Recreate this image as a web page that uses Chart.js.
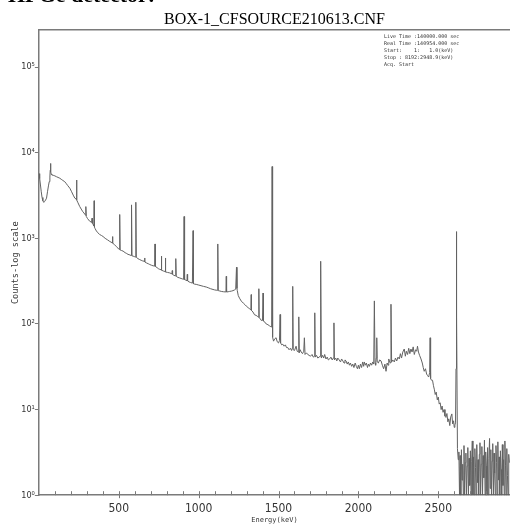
<!DOCTYPE html>
<html>
<head>
<meta charset="utf-8">
<script src="https://cdn.jsdelivr.net/npm/chart.js@4.4.1/dist/chart.umd.min.js"></script>
<style>
  html, body { margin: 0; padding: 0; background: #fff; overflow: hidden; }
  #wrap { position: relative; width: 510px; height: 524px; }
  #heading { position: absolute; left: 8px; top: -16px; font: bold 22px/22px 'Liberation Serif', serif; color: #000; white-space: nowrap; }
  #info { position: absolute; left: 384px; top: 33px; font: 5px/7px 'DejaVu Sans Mono', monospace; color: #333; white-space: pre; }
</style>
</head>
<body>
<div id="wrap">
  <canvas id="spectrum" width="510" height="524"></canvas>
  <div id="heading">HPGe detector:</div>
  <div id="info"></div>
</div>
<script>
(function() {
    // [energy keV, counts]
    const lowRegion = [
        [1,5700],[5,5000],[10,4200],[15,3500],[20,3000],[25,2750],[31,2630],[36,2700],[42,2800],[48,2950],
        [54,3500],[60,4100],[65,4600],[69,5200],[71,6200],[73,7500],[75,6000],[78,5600],[81,5500],[90,5450],
        [100,5370],[110,5250],[120,5150],[131,5040],[140,4900],[150,4750],[162,4590],[170,4400],[180,4150],[194,3850],
        [205,3500],[215,3200],[225,2950],[234,2870],[236,4800],[238,2800],[245,2600],[256,2350],[265,2200],[275,2050],
        [282,1980],[289,1900],[293,1850],[295,2350],[297,1800],[305,1700],[319,1580],[331,1540],[333,1720],[335,1500],
        [340,1450],[344,1400],[346,2750],[348,1350],[352,1300],[360,1220],[370,1160],[380,1110],[392,1080],[402,1050],
        [415,1000],[430,960],[444,920],[458,890],[461,1050],[463,880],[472,850],[485,800],[495,770],[503,740],
        [506,1900],[509,730],[518,720],[527,710],[540,680],[550,665],[558,650],[570,640],[577,630],[580,2460],
        [583,625],[590,620],[600,610],[604,605],[607,2640],[610,600],[620,580],[631,565],[640,555],[650,545],
        [660,540],[662,590],[664,530],[675,515],[685,505],[694,495],[705,485],[715,478],[725,475],[727,860],
        [729,470],[740,455],[750,440],[756,435],[765,430],[767,620],[769,425],[780,415],[790,410],[792,590],
        [794,405],[805,400],[819,395],[833,385],[835,420],[837,380],[845,370],[854,365],[857,580],[860,360],
        [870,350],[881,345],[890,340],[900,335],[906,332],[909,1800],[912,330],[920,325],[927,320],[929,380],
        [931,318],[940,310],[950,305],[961,300],[965,1230],[968,295],[975,292],[985,290],[1000,285],[1015,280],
        [1030,275],[1048,270],[1060,265],[1075,258],[1090,253],[1100,250],[1110,248],[1117,247],[1120,860],[1123,245],
        [1132,243],[1142,240],[1155,238],[1165,237],[1171,237],[1173,360],[1175,236],[1185,238],[1194,240],[1205,242],
        [1215,245],[1225,250],[1232,255],[1237,460],[1240,260]
    ];

    const midRegion = [
        [1242,245],[1248,215],[1256,200],[1267,185],[1280,175],[1290,168],[1298,162],[1310,155],[1320,150],[1327,146],
        [1329,220],[1331,144],[1340,138],[1350,128],[1360,126],[1370,122],[1375,120],[1377,258],[1379,118],[1385,116],
        [1392,110],[1400,110],[1403,230],[1406,108],[1415,105],[1423,100],[1434,98],[1444,95],[1452,93],[1457,92],
        [1460,6900],[1463,70],[1469,63],[1476,67],[1485,69],[1492,62],[1500,60],[1506,64],[1510,129],[1513,60],
        [1520,57],[1527,58],[1535,55],[1543,57],[1550,53],[1558,53],[1566,50],[1574,52],[1582,49],[1586,52],
        [1589,275],[1592,50],[1600,49],[1610,55],[1617,48],[1624,47],[1627,121],[1630,46],[1636,50],[1642,47],
        [1650,45],[1658,48],[1662,69],[1666,44],[1675,46],[1683,44],[1692,43],[1700,42],[1710,44],[1718,41],
        [1724,42],[1727,135],[1730,41],[1738,43],[1746,40],[1754,41],[1760,42],[1764,540],[1768,40],[1776,43],
        [1783,40],[1789,44],[1797,39],[1805,41],[1812,38],[1820,39],[1828,41],[1836,38],[1843,40],[1847,103],
        [1850,38],[1858,40],[1865,37],[1871,40],[1880,38],[1888,36],[1895,39],[1903,37],[1910,35],[1916,38],
        [1923,37],[1930,34],[1937,36],[1944,33],[1950,35],[1958,32],[1965,34],[1972,31],[1980,35],[1987,32],
        [1994,30],[2000,33],[2006,30],[2013,34],[2020,31],[2027,36],[2033,32],[2037,36],[2044,33],[2050,35],
        [2057,31],[2063,34],[2069,32],[2076,35],[2083,33],[2090,36],[2096,34],[2100,186],[2104,35],[2108,33],
        [2112,40],[2115,69],[2118,36],[2125,35],[2133,38],[2142,37],[2150,33],[2158,30],[2166,34],[2173,28],
        [2180,35],[2186,33],[2190,39],[2196,36],[2200,35],[2204,170],[2208,36],[2215,38],[2225,36],[2232,40],
        [2240,37],[2248,41],[2256,39],[2263,45],[2270,40],[2278,47],[2287,51],[2294,42],[2300,48],[2308,44],
        [2315,52],[2322,45],[2329,51],[2336,47],[2343,54],[2350,44],[2358,50],[2365,48],[2370,55],[2376,47],
        [2383,43],[2392,39],[2400,35],[2406,31],[2412,28],[2420,30],[2427,26],[2433,25],[2440,24],[2446,27],
        [2449,69],[2452,23],[2458,22],[2464,22],[2470,19],[2476,17],[2481,15],[2487,16],[2494,13],[2500,14],
        [2506,11.6],[2512,12],[2518,10],[2524,11],[2530,9.3],[2536,10],[2542,8.4],[2548,8.1],[2554,9],[2560,7.2],
        [2566,7.8],[2572,6.5],[2578,8.2],[2585,8.9],[2590,6.8],[2596,7.4],[2600,6.2],[2604,6.6],[2608,7]
    ];

    const tailRegion = [
        [2611,30],[2613,1200],[2616,120],[2620,3.5],[2625,2.6],[2629,3.2],[2633,1],[2637,2.9],[2641,1],[2645,3.4],
        [2649,1.5],[2653,2.3],[2657,1],[2661,3.8],[2665,1],[2669,2.4],[2673,3.1],[2677,1],[2681,2.2],[2685,3.6],
        [2689,1],[2693,2.7],[2697,1.3],[2701,3.3],[2705,1],[2709,2.5],[2713,4.3],[2717,1],[2721,2.8],[2725,1],
        [2729,3.5],[2733,2.1],[2737,1],[2741,3.9],[2745,1.4],[2749,2.6],[2753,1],[2757,3.0],[2761,4.1],[2765,1],
        [2769,2.3],[2773,3.7],[2777,1],[2781,2.9],[2785,1.6],[2789,4.4],[2793,1],[2797,3.2],[2801,2.2],[2805,1],
        [2809,3.6],[2813,1],[2817,2.7],[2821,4.6],[2825,1.2],[2829,3.4],[2833,1],[2837,2.5],[2841,4.0],[2845,1],
        [2849,3.1],[2853,1.8],[2857,1],[2861,3.8],[2865,2.4],[2869,1],[2873,4.2],[2877,1.5],[2881,2.8],[2885,1],
        [2889,3.3],[2893,2.0],[2897,1],[2901,3.9],[2905,1.3],[2909,2.6],[2913,1],[2917,4.3],[2921,2.2],[2925,1],
        [2929,3.5],[2933,1.7],[2937,1],[2941,3.0],[2945,2.4]
    ];

    const yTickValues = [1, 10, 100, 1000, 10000, 100000];
    const yTickLabels = ['10⁰', '10¹', '10²', '10³', '10⁴', '10⁵'];
    const xLabelValues = [500, 1000, 1500, 2000, 2500];
    const infoLines = [
        'Live Time :140000.000 sec',
        'Real Time :140954.000 sec',
        'Start:    1:   1.0(keV)',
        'Stop : 8192:2948.9(keV)',
        'Acq. Start'
    ];

    document.getElementById('info').textContent = infoLines.join('\n');

    const spectrum = lowRegion.concat(midRegion, tailRegion);
    const axisGrey = '#7a7a7a';
    const narrow = "'Liberation Sans Narrow', 'DejaVu Sans Condensed', 'DejaVu Sans', sans-serif";
    const mono = "'DejaVu Sans Mono', monospace";

    // small tick marks pointing into the plot on the energy axis
    const innerTicks = {
        id: 'innerTicks',
        afterDatasetsDraw(chart) {
            const {ctx, chartArea, scales: {x}} = chart;
            ctx.save();
            ctx.strokeStyle = axisGrey;
            ctx.lineWidth = 1;
            x.ticks.forEach(t => {
                if (t.value <= 0 || t.value >= x.max || t.value % 100) return;
                const px = Math.round(x.getPixelForValue(t.value)) + 0.5;
                const major = t.value % 500 === 0;
                ctx.beginPath();
                ctx.moveTo(px, chartArea.bottom - 4);
                ctx.lineTo(px, chartArea.bottom + (major ? 3 : 0));
                ctx.stroke();
            });
            ctx.restore();
        }
    };

    new Chart(
        document.getElementById('spectrum'),
        {
            type: 'line',
            data: {
                datasets: [
                    {
                        label: 'Counts',
                        data: spectrum.map(([e, c]) => ({x: e, y: c})),
                        borderColor: '#636363',
                        borderWidth: 1,
                        pointRadius: 0,
                        pointHoverRadius: 0,
                        tension: 0
                    }
                ]
            },
            options: {
                responsive: false,
                animation: false,
                layout: { autoPadding: false, padding: { top: 8, left: 1, right: 0, bottom: 0 } },
                plugins: {
                    legend: { display: false },
                    tooltip: { enabled: false }
                },
                scales: {
                    x: {
                        type: 'linear',
                        position: 'bottom',
                        min: 0,
                        max: 2949,
                        // tick marks are drawn by the plugin; tickLength only spaces the labels
                        grid: { display: false, drawTicks: true, tickLength: 6 },
                        border: { color: axisGrey, width: 1.5 },
                        ticks: {
                            stepSize: 100,
                            autoSkip: false,
                            maxRotation: 0,
                            padding: 0,
                            color: '#333',
                            font: { family: narrow, size: 12 },
                            callback: v => xLabelValues.includes(v) ? String(v) : ''
                        },
                        title: {
                            display: true,
                            text: 'Energy(keV)',
                            color: '#333',
                            padding: { top: 0, bottom: 0 },
                            font: { family: mono, size: 7 }
                        }
                    },
                    top: {
                        type: 'linear',
                        position: 'top',
                        min: 0,
                        max: 2949,
                        grid: { display: false, drawTicks: false },
                        ticks: { display: false, padding: 0 },
                        border: { color: axisGrey, width: 1.5 },
                        title: {
                            display: true,
                            text: 'BOX-1_CFSOURCE210613.CNF',
                            color: '#000',
                            padding: { top: 2, bottom: 1 },
                            font: { family: "'Liberation Serif', serif", size: 16 }
                        }
                    },
                    y: {
                        type: 'logarithmic',
                        min: 1,
                        max: 270000,
                        afterBuildTicks: scale => {
                            scale.ticks = yTickValues.map(v => ({ value: v }));
                        },
                        grid: { drawOnChartArea: false, tickLength: 4, color: axisGrey },
                        border: { color: axisGrey, width: 1.5 },
                        ticks: {
                            padding: 0,
                            color: '#333',
                            font: { family: narrow, size: 9 },
                            callback: v => yTickLabels[yTickValues.indexOf(v)]
                        },
                        title: {
                            display: true,
                            text: 'Counts-log scale',
                            color: '#333',
                            padding: { top: 10, bottom: 0 },
                            font: { family: mono, size: 8.6 }
                        }
                    }
                }
            },
            plugins: [innerTicks]
        }
    );
})();
</script>
</body>
</html>
